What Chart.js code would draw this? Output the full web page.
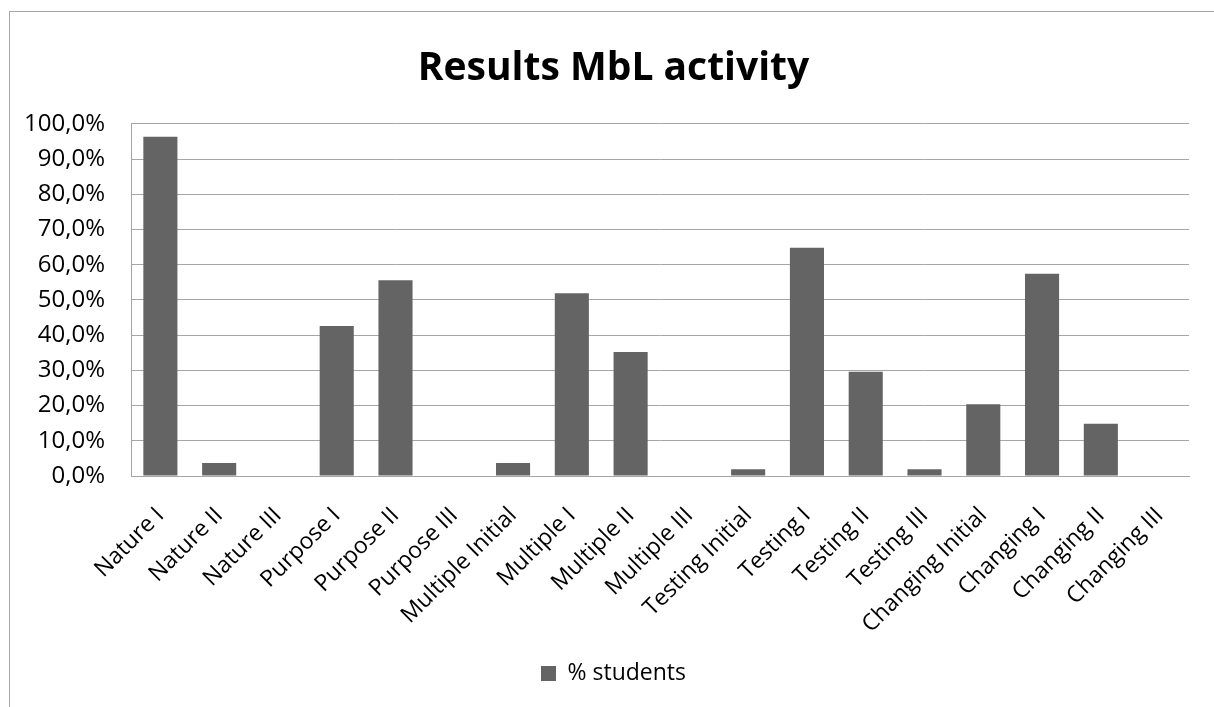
<!DOCTYPE html>
<html>
<head>
<meta charset="utf-8">
<script src="https://cdn.jsdelivr.net/npm/chart.js@4/dist/chart.umd.min.js"></script>
<style>
  html, body { margin: 0; padding: 0; background: #fff; overflow: hidden; }
  #wrap { position: relative; width: 1214px; height: 707px; }
  #frame { position: absolute; left: 9px; top: 11px; width: 1300px; height: 800px;
           border-left: 1px solid #a6a6a6; border-top: 1px solid #a6a6a6; }
  canvas { position: absolute; left: 0; top: 0; }
</style>
</head>
<body>
<div id="wrap">
  <div id="frame"></div>
  <canvas id="chart" width="1201" height="707"></canvas>
</div>
<script>
// categories and % of students
var categories = [
  'Nature I', 'Nature II', 'Nature III',
  'Purpose I', 'Purpose II', 'Purpose III',
  'Multiple Initial', 'Multiple I', 'Multiple II', 'Multiple III',
  'Testing Initial', 'Testing I', 'Testing II', 'Testing III',
  'Changing Initial', 'Changing I', 'Changing II', 'Changing III'
];
var students = [
  96.3, 3.7, 0,
  42.6, 55.6, 0,
  3.7, 51.9, 35.2, 0,
  1.9, 64.8, 29.6, 1.9,
  20.4, 57.4, 14.8, 0
];
var yTicks = [0, 10, 20, 30, 40, 50, 60, 70, 80, 90, 100];

var font = "'Open Sans', 'Liberation Sans', sans-serif";

var ctx = document.getElementById('chart');
var chart = new Chart(ctx, {
  type: 'bar',
  data: {
    labels: categories,
    datasets: [{
      label: '% students',
      data: students,
      backgroundColor: '#646464',
      borderWidth: 0,
      categoryPercentage: 1,
      barPercentage: 0.58
    }]
  },
  options: {
    responsive: false,
    animation: false,
    layout: { padding: { left: 26, right: 0, top: 0, bottom: 12 } },
    plugins: {
      title: {
        display: true,
        text: 'Results MbL activity',
        color: '#000',
        font: { family: font, size: 39, weight: 'bold' },
        padding: { top: 45, bottom: 32 }
      },
      legend: {
        position: 'bottom',
        labels: {
          color: '#000',
          font: { family: font, size: 23 },
          boxWidth: 15,
          boxHeight: 15,
          padding: 10
        }
      },
      tooltip: { enabled: false }
    },
    scales: {
      x: {
        grid: { display: false, drawTicks: false },
        border: { color: '#a6a6a6' },
        ticks: {
          color: '#000',
          font: { family: font, size: 23 },
          minRotation: 45,
          maxRotation: 45,
          autoSkip: false,
          padding: 26
        },
        afterFit: function(s) {
          s.height = 176;
          s.paddingLeft = 0;
          s.paddingRight = 12; // empty strip right of the plot
        }
      },
      y: {
        min: 0,
        max: 100,
        afterBuildTicks: function(s) {
          s.ticks = yTicks.map(function(v) { return { value: v }; });
        },
        grid: { color: '#a6a6a6', drawTicks: false },
        border: { color: '#a6a6a6' },
        ticks: {
          color: '#000',
          font: { family: font, size: 24 },
          padding: 26,
          callback: function(v) { return v.toFixed(1).replace('.', ',') + '%'; }
        },
        afterFit: function(s) { s.width = 105; }
      }
    }
  }
});
</script>
</body>
</html>
